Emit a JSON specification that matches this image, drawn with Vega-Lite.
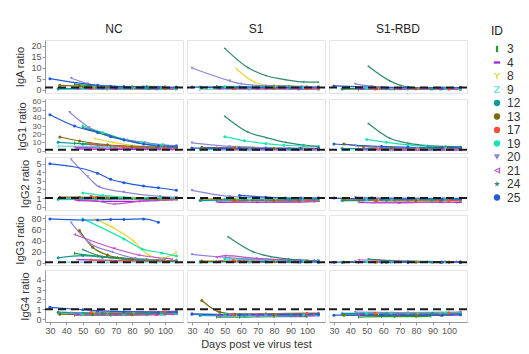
{
"$schema": "https://vega.github.io/schema/vega-lite/v6.json",
"padding": {"left": 14, "top": 22, "right": 4, "bottom": 2},
"datasets": {
"IgA": [
{"c":"NC","id":3,"d":45,"v":2.5},{"c":"NC","id":3,"d":59,"v":1.6},{"c":"NC","id":3,"d":67,"v":1.5},{"c":"NC","id":3,"d":80,"v":1.4},{"c":"NC","id":3,"d":89,"v":1.5},{"c":"NC","id":3,"d":100,"v":1.4},
{"c":"NC","id":4,"d":47,"v":0.4},{"c":"NC","id":4,"d":70,"v":0.3},{"c":"NC","id":4,"d":95,"v":0.3},{"c":"NC","id":4,"d":107,"v":0.4},
{"c":"NC","id":8,"d":57,"v":0.8},{"c":"NC","id":8,"d":81,"v":0.6},{"c":"NC","id":8,"d":98,"v":0.5},{"c":"NC","id":8,"d":107,"v":0.7},
{"c":"NC","id":9,"d":35,"v":0.1},{"c":"NC","id":9,"d":65,"v":0.1},{"c":"NC","id":9,"d":95,"v":0.2},{"c":"NC","id":9,"d":107,"v":0.1},
{"c":"NC","id":12,"d":35,"v":0.5},{"c":"NC","id":12,"d":62,"v":0.6},{"c":"NC","id":12,"d":90,"v":0.5},{"c":"NC","id":12,"d":107,"v":0.6},
{"c":"NC","id":13,"d":36,"v":2.0},{"c":"NC","id":13,"d":48,"v":1.6},{"c":"NC","id":13,"d":65,"v":1.1},{"c":"NC","id":13,"d":95,"v":0.9},
{"c":"NC","id":17,"d":55,"v":0.7},{"c":"NC","id":17,"d":75,"v":0.6},{"c":"NC","id":17,"d":100,"v":0.5},{"c":"NC","id":17,"d":107,"v":0.5},
{"c":"NC","id":19,"d":50,"v":0.7},{"c":"NC","id":19,"d":75,"v":0.6},{"c":"NC","id":19,"d":98,"v":0.5},{"c":"NC","id":19,"d":107,"v":0.6},
{"c":"NC","id":20,"d":43,"v":5.2},{"c":"NC","id":20,"d":53,"v":2.8},{"c":"NC","id":20,"d":60,"v":1.8},{"c":"NC","id":20,"d":75,"v":1.2},{"c":"NC","id":20,"d":97,"v":1.0},{"c":"NC","id":20,"d":107,"v":1.1},
{"c":"NC","id":21,"d":45,"v":0.6},{"c":"NC","id":21,"d":69,"v":0.4},{"c":"NC","id":21,"d":95,"v":0.5},{"c":"NC","id":21,"d":104,"v":0.4},
{"c":"NC","id":24,"d":50,"v":1.0},{"c":"NC","id":24,"d":75,"v":0.8},{"c":"NC","id":24,"d":98,"v":0.7},{"c":"NC","id":24,"d":107,"v":0.8},
{"c":"NC","id":25,"d":30,"v":5.0},{"c":"NC","id":25,"d":59,"v":2.0},{"c":"NC","id":25,"d":67,"v":1.6},{"c":"NC","id":25,"d":75,"v":1.4},{"c":"NC","id":25,"d":87,"v":1.2},{"c":"NC","id":25,"d":96,"v":1.1},{"c":"NC","id":25,"d":107,"v":1.2},
{"c":"S1","id":3,"d":45,"v":1.5},{"c":"S1","id":3,"d":67,"v":1.3},{"c":"S1","id":3,"d":80,"v":1.8},{"c":"S1","id":3,"d":89,"v":1.6},{"c":"S1","id":3,"d":100,"v":1.4},
{"c":"S1","id":4,"d":47,"v":0.4},{"c":"S1","id":4,"d":70,"v":0.3},{"c":"S1","id":4,"d":95,"v":0.3},{"c":"S1","id":4,"d":107,"v":0.4},
{"c":"S1","id":8,"d":57,"v":9.5},{"c":"S1","id":8,"d":68,"v":3.5},{"c":"S1","id":8,"d":81,"v":1.5},{"c":"S1","id":8,"d":98,"v":1.2},{"c":"S1","id":8,"d":107,"v":1.2},
{"c":"S1","id":9,"d":35,"v":0.1},{"c":"S1","id":9,"d":65,"v":0.2},{"c":"S1","id":9,"d":95,"v":0.1},{"c":"S1","id":9,"d":107,"v":0.2},
{"c":"S1","id":12,"d":35,"v":1.2},{"c":"S1","id":12,"d":62,"v":1.0},{"c":"S1","id":12,"d":90,"v":0.8},{"c":"S1","id":12,"d":107,"v":0.8},
{"c":"S1","id":13,"d":36,"v":1.0},{"c":"S1","id":13,"d":56,"v":0.7},{"c":"S1","id":13,"d":80,"v":0.6},{"c":"S1","id":13,"d":95,"v":0.6},
{"c":"S1","id":17,"d":55,"v":0.5},{"c":"S1","id":17,"d":75,"v":0.5},{"c":"S1","id":17,"d":100,"v":0.4},{"c":"S1","id":17,"d":107,"v":0.4},
{"c":"S1","id":19,"d":50,"v":1.5},{"c":"S1","id":19,"d":75,"v":1.3},{"c":"S1","id":19,"d":98,"v":1.0},{"c":"S1","id":19,"d":107,"v":1.0},
{"c":"S1","id":20,"d":30,"v":9.8},{"c":"S1","id":20,"d":53,"v":4.0},{"c":"S1","id":20,"d":60,"v":2.6},{"c":"S1","id":20,"d":75,"v":1.8},{"c":"S1","id":20,"d":97,"v":1.4},{"c":"S1","id":20,"d":107,"v":1.3},
{"c":"S1","id":21,"d":45,"v":0.6},{"c":"S1","id":21,"d":69,"v":0.5},{"c":"S1","id":21,"d":95,"v":0.4},{"c":"S1","id":21,"d":104,"v":0.5},
{"c":"S1","id":24,"d":50,"v":18.7},{"c":"S1","id":24,"d":64,"v":10.0},{"c":"S1","id":24,"d":75,"v":6.4},{"c":"S1","id":24,"d":87,"v":4.5},{"c":"S1","id":24,"d":98,"v":3.5},{"c":"S1","id":24,"d":107,"v":3.4},
{"c":"S1","id":25,"d":30,"v":1.2},{"c":"S1","id":25,"d":59,"v":1.2},{"c":"S1","id":25,"d":75,"v":1.1},{"c":"S1","id":25,"d":96,"v":1.0},{"c":"S1","id":25,"d":107,"v":1.1},
{"c":"S1-RBD","id":3,"d":45,"v":0.2},{"c":"S1-RBD","id":3,"d":67,"v":0.3},{"c":"S1-RBD","id":3,"d":89,"v":0.2},{"c":"S1-RBD","id":3,"d":100,"v":0.3},
{"c":"S1-RBD","id":4,"d":47,"v":0.3},{"c":"S1-RBD","id":4,"d":70,"v":0.2},{"c":"S1-RBD","id":4,"d":95,"v":0.3},{"c":"S1-RBD","id":4,"d":107,"v":0.3},
{"c":"S1-RBD","id":8,"d":57,"v":0.5},{"c":"S1-RBD","id":8,"d":81,"v":0.4},{"c":"S1-RBD","id":8,"d":98,"v":0.4},{"c":"S1-RBD","id":8,"d":107,"v":0.4},
{"c":"S1-RBD","id":9,"d":35,"v":0.1},{"c":"S1-RBD","id":9,"d":65,"v":0.1},{"c":"S1-RBD","id":9,"d":95,"v":0.1},{"c":"S1-RBD","id":9,"d":107,"v":0.1},
{"c":"S1-RBD","id":12,"d":35,"v":0.4},{"c":"S1-RBD","id":12,"d":62,"v":0.4},{"c":"S1-RBD","id":12,"d":90,"v":0.4},{"c":"S1-RBD","id":12,"d":107,"v":0.3},
{"c":"S1-RBD","id":13,"d":36,"v":0.6},{"c":"S1-RBD","id":13,"d":56,"v":0.5},{"c":"S1-RBD","id":13,"d":80,"v":0.4},{"c":"S1-RBD","id":13,"d":95,"v":0.4},
{"c":"S1-RBD","id":17,"d":55,"v":0.3},{"c":"S1-RBD","id":17,"d":75,"v":0.3},{"c":"S1-RBD","id":17,"d":100,"v":0.3},{"c":"S1-RBD","id":17,"d":107,"v":0.3},
{"c":"S1-RBD","id":19,"d":50,"v":0.7},{"c":"S1-RBD","id":19,"d":75,"v":0.5},{"c":"S1-RBD","id":19,"d":98,"v":0.5},{"c":"S1-RBD","id":19,"d":107,"v":0.5},
{"c":"S1-RBD","id":20,"d":43,"v":2.6},{"c":"S1-RBD","id":20,"d":53,"v":1.5},{"c":"S1-RBD","id":20,"d":75,"v":0.9},{"c":"S1-RBD","id":20,"d":97,"v":0.8},{"c":"S1-RBD","id":20,"d":107,"v":0.8},
{"c":"S1-RBD","id":21,"d":45,"v":0.4},{"c":"S1-RBD","id":21,"d":69,"v":0.3},{"c":"S1-RBD","id":21,"d":95,"v":0.3},{"c":"S1-RBD","id":21,"d":104,"v":0.3},
{"c":"S1-RBD","id":24,"d":51,"v":10.6},{"c":"S1-RBD","id":24,"d":64,"v":4.0},{"c":"S1-RBD","id":24,"d":75,"v":1.2},{"c":"S1-RBD","id":24,"d":87,"v":0.8},{"c":"S1-RBD","id":24,"d":98,"v":0.8},{"c":"S1-RBD","id":24,"d":107,"v":0.9},
{"c":"S1-RBD","id":25,"d":30,"v":1.7},{"c":"S1-RBD","id":25,"d":59,"v":1.0},{"c":"S1-RBD","id":25,"d":75,"v":0.9},{"c":"S1-RBD","id":25,"d":96,"v":0.8},{"c":"S1-RBD","id":25,"d":107,"v":1.0}
],
"IgG1": [
{"c":"NC","id":3,"d":45,"v":9},{"c":"NC","id":3,"d":59,"v":7},{"c":"NC","id":3,"d":67,"v":5},{"c":"NC","id":3,"d":80,"v":4},{"c":"NC","id":3,"d":89,"v":3.5},{"c":"NC","id":3,"d":100,"v":3},
{"c":"NC","id":4,"d":47,"v":2},{"c":"NC","id":4,"d":70,"v":1.5},{"c":"NC","id":4,"d":95,"v":1.2},{"c":"NC","id":4,"d":107,"v":1},
{"c":"NC","id":8,"d":57,"v":14.7},{"c":"NC","id":8,"d":68,"v":10},{"c":"NC","id":8,"d":81,"v":6},{"c":"NC","id":8,"d":98,"v":3.5},{"c":"NC","id":8,"d":107,"v":3},
{"c":"NC","id":9,"d":35,"v":5.3},{"c":"NC","id":9,"d":65,"v":5},{"c":"NC","id":9,"d":95,"v":5},{"c":"NC","id":9,"d":107,"v":5},
{"c":"NC","id":12,"d":35,"v":10},{"c":"NC","id":12,"d":50,"v":8},{"c":"NC","id":12,"d":75,"v":5},{"c":"NC","id":12,"d":107,"v":3},
{"c":"NC","id":13,"d":36,"v":16.6},{"c":"NC","id":13,"d":48,"v":11.7},{"c":"NC","id":13,"d":65,"v":7},{"c":"NC","id":13,"d":80,"v":5},{"c":"NC","id":13,"d":95,"v":4},
{"c":"NC","id":17,"d":55,"v":8},{"c":"NC","id":17,"d":75,"v":5},{"c":"NC","id":17,"d":100,"v":3},{"c":"NC","id":17,"d":107,"v":3},
{"c":"NC","id":19,"d":50,"v":30},{"c":"NC","id":19,"d":62,"v":22},{"c":"NC","id":19,"d":75,"v":14},{"c":"NC","id":19,"d":86,"v":10},{"c":"NC","id":19,"d":98,"v":7},{"c":"NC","id":19,"d":107,"v":5.3},
{"c":"NC","id":20,"d":42,"v":46.8},{"c":"NC","id":20,"d":54,"v":28},{"c":"NC","id":20,"d":77,"v":12.8},{"c":"NC","id":20,"d":88,"v":9.8},{"c":"NC","id":20,"d":99,"v":7},{"c":"NC","id":20,"d":107,"v":6},
{"c":"NC","id":21,"d":45,"v":4},{"c":"NC","id":21,"d":69,"v":3},{"c":"NC","id":21,"d":95,"v":2},{"c":"NC","id":21,"d":104,"v":2},
{"c":"NC","id":24,"d":50,"v":28},{"c":"NC","id":24,"d":64,"v":20},{"c":"NC","id":24,"d":75,"v":13},{"c":"NC","id":24,"d":87,"v":8},{"c":"NC","id":24,"d":98,"v":5},{"c":"NC","id":24,"d":107,"v":4},
{"c":"NC","id":25,"d":30,"v":43.8},{"c":"NC","id":25,"d":45,"v":30},{"c":"NC","id":25,"d":59,"v":22},{"c":"NC","id":25,"d":67,"v":17},{"c":"NC","id":25,"d":75,"v":13},{"c":"NC","id":25,"d":87,"v":8},{"c":"NC","id":25,"d":96,"v":6},{"c":"NC","id":25,"d":107,"v":5},
{"c":"S1","id":3,"d":45,"v":3},{"c":"S1","id":3,"d":67,"v":2.5},{"c":"S1","id":3,"d":89,"v":2.5},{"c":"S1","id":3,"d":100,"v":2},
{"c":"S1","id":4,"d":47,"v":1},{"c":"S1","id":4,"d":70,"v":0.8},{"c":"S1","id":4,"d":95,"v":0.7},{"c":"S1","id":4,"d":107,"v":0.8},
{"c":"S1","id":8,"d":57,"v":5},{"c":"S1","id":8,"d":81,"v":3},{"c":"S1","id":8,"d":98,"v":2.5},{"c":"S1","id":8,"d":107,"v":2.5},
{"c":"S1","id":9,"d":35,"v":1},{"c":"S1","id":9,"d":65,"v":1},{"c":"S1","id":9,"d":95,"v":1},{"c":"S1","id":9,"d":107,"v":1},
{"c":"S1","id":12,"d":35,"v":2},{"c":"S1","id":12,"d":62,"v":2},{"c":"S1","id":12,"d":90,"v":2},{"c":"S1","id":12,"d":107,"v":2},
{"c":"S1","id":13,"d":36,"v":4},{"c":"S1","id":13,"d":56,"v":3},{"c":"S1","id":13,"d":80,"v":2.5},{"c":"S1","id":13,"d":95,"v":2},
{"c":"S1","id":17,"d":55,"v":2},{"c":"S1","id":17,"d":75,"v":2},{"c":"S1","id":17,"d":100,"v":1.5},{"c":"S1","id":17,"d":107,"v":1.5},
{"c":"S1","id":19,"d":50,"v":17},{"c":"S1","id":19,"d":62,"v":12},{"c":"S1","id":19,"d":75,"v":8.5},{"c":"S1","id":19,"d":86,"v":6.5},{"c":"S1","id":19,"d":98,"v":5.5},{"c":"S1","id":19,"d":107,"v":5},
{"c":"S1","id":20,"d":30,"v":9.4},{"c":"S1","id":20,"d":53,"v":5},{"c":"S1","id":20,"d":75,"v":3.5},{"c":"S1","id":20,"d":97,"v":3},{"c":"S1","id":20,"d":107,"v":3},
{"c":"S1","id":21,"d":45,"v":3},{"c":"S1","id":21,"d":69,"v":2},{"c":"S1","id":21,"d":95,"v":1.5},{"c":"S1","id":21,"d":104,"v":1.5},
{"c":"S1","id":24,"d":50,"v":42},{"c":"S1","id":24,"d":64,"v":22.6},{"c":"S1","id":24,"d":75,"v":16},{"c":"S1","id":24,"d":87,"v":10},{"c":"S1","id":24,"d":98,"v":6.8},{"c":"S1","id":24,"d":107,"v":5},
{"c":"S1","id":25,"d":30,"v":3},{"c":"S1","id":25,"d":59,"v":3},{"c":"S1","id":25,"d":75,"v":2.5},{"c":"S1","id":25,"d":96,"v":2.5},{"c":"S1","id":25,"d":107,"v":2.5},
{"c":"S1-RBD","id":3,"d":45,"v":2},{"c":"S1-RBD","id":3,"d":67,"v":2},{"c":"S1-RBD","id":3,"d":89,"v":1.8},{"c":"S1-RBD","id":3,"d":100,"v":1.8},
{"c":"S1-RBD","id":4,"d":47,"v":0.8},{"c":"S1-RBD","id":4,"d":70,"v":0.6},{"c":"S1-RBD","id":4,"d":95,"v":0.6},{"c":"S1-RBD","id":4,"d":107,"v":0.7},
{"c":"S1-RBD","id":8,"d":57,"v":3},{"c":"S1-RBD","id":8,"d":81,"v":2.5},{"c":"S1-RBD","id":8,"d":98,"v":2},{"c":"S1-RBD","id":8,"d":107,"v":2},
{"c":"S1-RBD","id":9,"d":35,"v":1},{"c":"S1-RBD","id":9,"d":65,"v":1},{"c":"S1-RBD","id":9,"d":95,"v":1},{"c":"S1-RBD","id":9,"d":107,"v":1},
{"c":"S1-RBD","id":12,"d":35,"v":2.5},{"c":"S1-RBD","id":12,"d":62,"v":2.5},{"c":"S1-RBD","id":12,"d":90,"v":2.5},{"c":"S1-RBD","id":12,"d":107,"v":2.5},
{"c":"S1-RBD","id":13,"d":36,"v":8},{"c":"S1-RBD","id":13,"d":48,"v":5},{"c":"S1-RBD","id":13,"d":65,"v":3.5},{"c":"S1-RBD","id":13,"d":95,"v":3},
{"c":"S1-RBD","id":17,"d":55,"v":2},{"c":"S1-RBD","id":17,"d":75,"v":1.8},{"c":"S1-RBD","id":17,"d":100,"v":1.5},{"c":"S1-RBD","id":17,"d":107,"v":1.5},
{"c":"S1-RBD","id":19,"d":50,"v":13.6},{"c":"S1-RBD","id":19,"d":62,"v":10},{"c":"S1-RBD","id":19,"d":75,"v":7},{"c":"S1-RBD","id":19,"d":86,"v":5.5},{"c":"S1-RBD","id":19,"d":98,"v":4.5},{"c":"S1-RBD","id":19,"d":107,"v":4},
{"c":"S1-RBD","id":20,"d":43,"v":6},{"c":"S1-RBD","id":20,"d":53,"v":4.5},{"c":"S1-RBD","id":20,"d":75,"v":3.5},{"c":"S1-RBD","id":20,"d":97,"v":3},{"c":"S1-RBD","id":20,"d":107,"v":3},
{"c":"S1-RBD","id":21,"d":45,"v":1.5},{"c":"S1-RBD","id":21,"d":69,"v":1.2},{"c":"S1-RBD","id":21,"d":95,"v":1},{"c":"S1-RBD","id":21,"d":104,"v":1},
{"c":"S1-RBD","id":24,"d":51,"v":33},{"c":"S1-RBD","id":24,"d":64,"v":15},{"c":"S1-RBD","id":24,"d":75,"v":9},{"c":"S1-RBD","id":24,"d":87,"v":6},{"c":"S1-RBD","id":24,"d":98,"v":5},{"c":"S1-RBD","id":24,"d":107,"v":4.5},
{"c":"S1-RBD","id":25,"d":30,"v":8},{"c":"S1-RBD","id":25,"d":59,"v":5},{"c":"S1-RBD","id":25,"d":75,"v":4},{"c":"S1-RBD","id":25,"d":96,"v":3.5},{"c":"S1-RBD","id":25,"d":107,"v":3.5}
],
"IgG2": [
{"c":"NC","id":3,"d":45,"v":1.0},{"c":"NC","id":3,"d":59,"v":0.95},{"c":"NC","id":3,"d":67,"v":0.9},{"c":"NC","id":3,"d":80,"v":0.95},{"c":"NC","id":3,"d":89,"v":0.9},{"c":"NC","id":3,"d":100,"v":0.9},
{"c":"NC","id":4,"d":47,"v":0.7},{"c":"NC","id":4,"d":70,"v":0.6},{"c":"NC","id":4,"d":95,"v":0.7},{"c":"NC","id":4,"d":107,"v":0.8},
{"c":"NC","id":8,"d":57,"v":1.1},{"c":"NC","id":8,"d":81,"v":0.9},{"c":"NC","id":8,"d":98,"v":0.8},{"c":"NC","id":8,"d":107,"v":0.8},
{"c":"NC","id":9,"d":35,"v":0.8},{"c":"NC","id":9,"d":65,"v":0.9},{"c":"NC","id":9,"d":95,"v":0.9},{"c":"NC","id":9,"d":107,"v":0.9},
{"c":"NC","id":12,"d":35,"v":0.9},{"c":"NC","id":12,"d":62,"v":0.9},{"c":"NC","id":12,"d":90,"v":1.0},{"c":"NC","id":12,"d":107,"v":1.0},
{"c":"NC","id":13,"d":36,"v":1.1},{"c":"NC","id":13,"d":48,"v":1.1},{"c":"NC","id":13,"d":65,"v":1.0},{"c":"NC","id":13,"d":95,"v":0.9},
{"c":"NC","id":17,"d":55,"v":1.2},{"c":"NC","id":17,"d":75,"v":1.0},{"c":"NC","id":17,"d":100,"v":0.9},{"c":"NC","id":17,"d":107,"v":0.9},
{"c":"NC","id":19,"d":50,"v":1.6},{"c":"NC","id":19,"d":62,"v":1.3},{"c":"NC","id":19,"d":75,"v":1.1},{"c":"NC","id":19,"d":98,"v":1.0},{"c":"NC","id":19,"d":107,"v":1.0},
{"c":"NC","id":20,"d":43,"v":5.5},{"c":"NC","id":20,"d":53,"v":3.5},{"c":"NC","id":20,"d":60,"v":2.3},{"c":"NC","id":20,"d":75,"v":1.7},{"c":"NC","id":20,"d":97,"v":1.2},{"c":"NC","id":20,"d":107,"v":1.1},
{"c":"NC","id":21,"d":45,"v":0.8},{"c":"NC","id":21,"d":57,"v":0.7},{"c":"NC","id":21,"d":69,"v":0.3},{"c":"NC","id":21,"d":84,"v":0.6},{"c":"NC","id":21,"d":104,"v":0.8},
{"c":"NC","id":24,"d":50,"v":1.0},{"c":"NC","id":24,"d":75,"v":0.9},{"c":"NC","id":24,"d":98,"v":0.9},{"c":"NC","id":24,"d":107,"v":0.9},
{"c":"NC","id":25,"d":30,"v":5.0},{"c":"NC","id":25,"d":59,"v":3.9},{"c":"NC","id":25,"d":67,"v":3.2},{"c":"NC","id":25,"d":75,"v":2.8},{"c":"NC","id":25,"d":87,"v":2.4},{"c":"NC","id":25,"d":96,"v":2.2},{"c":"NC","id":25,"d":107,"v":1.9},
{"c":"S1","id":3,"d":45,"v":0.75},{"c":"S1","id":3,"d":67,"v":0.75},{"c":"S1","id":3,"d":89,"v":0.8},{"c":"S1","id":3,"d":100,"v":0.75},
{"c":"S1","id":4,"d":47,"v":0.5},{"c":"S1","id":4,"d":70,"v":0.5},{"c":"S1","id":4,"d":95,"v":0.55},{"c":"S1","id":4,"d":107,"v":0.6},
{"c":"S1","id":8,"d":57,"v":0.9},{"c":"S1","id":8,"d":81,"v":0.8},{"c":"S1","id":8,"d":98,"v":0.7},{"c":"S1","id":8,"d":107,"v":0.7},
{"c":"S1","id":9,"d":35,"v":0.7},{"c":"S1","id":9,"d":65,"v":0.7},{"c":"S1","id":9,"d":95,"v":0.8},{"c":"S1","id":9,"d":107,"v":0.8},
{"c":"S1","id":12,"d":35,"v":0.7},{"c":"S1","id":12,"d":62,"v":0.8},{"c":"S1","id":12,"d":90,"v":0.8},{"c":"S1","id":12,"d":107,"v":0.8},
{"c":"S1","id":13,"d":36,"v":0.9},{"c":"S1","id":13,"d":56,"v":0.8},{"c":"S1","id":13,"d":80,"v":0.7},{"c":"S1","id":13,"d":95,"v":0.7},
{"c":"S1","id":17,"d":55,"v":0.6},{"c":"S1","id":17,"d":75,"v":0.7},{"c":"S1","id":17,"d":100,"v":0.7},{"c":"S1","id":17,"d":107,"v":0.7},
{"c":"S1","id":19,"d":50,"v":0.9},{"c":"S1","id":19,"d":75,"v":0.8},{"c":"S1","id":19,"d":98,"v":0.8},{"c":"S1","id":19,"d":107,"v":0.8},
{"c":"S1","id":20,"d":30,"v":1.9},{"c":"S1","id":20,"d":53,"v":1.2},{"c":"S1","id":20,"d":75,"v":1.0},{"c":"S1","id":20,"d":97,"v":1.0},{"c":"S1","id":20,"d":107,"v":1.0},
{"c":"S1","id":21,"d":45,"v":0.55},{"c":"S1","id":21,"d":69,"v":0.5},{"c":"S1","id":21,"d":95,"v":0.55},{"c":"S1","id":21,"d":104,"v":0.6},
{"c":"S1","id":24,"d":50,"v":0.8},{"c":"S1","id":24,"d":75,"v":0.75},{"c":"S1","id":24,"d":98,"v":0.8},{"c":"S1","id":24,"d":107,"v":0.8},
{"c":"S1","id":25,"d":59,"v":1.3},{"c":"S1","id":25,"d":75,"v":1.1},{"c":"S1","id":25,"d":87,"v":1.0},{"c":"S1","id":25,"d":96,"v":1.0},{"c":"S1","id":25,"d":107,"v":1.0},
{"c":"S1-RBD","id":3,"d":45,"v":0.75},{"c":"S1-RBD","id":3,"d":67,"v":0.7},{"c":"S1-RBD","id":3,"d":89,"v":0.7},{"c":"S1-RBD","id":3,"d":100,"v":0.7},
{"c":"S1-RBD","id":4,"d":47,"v":0.5},{"c":"S1-RBD","id":4,"d":70,"v":0.45},{"c":"S1-RBD","id":4,"d":95,"v":0.5},{"c":"S1-RBD","id":4,"d":107,"v":0.5},
{"c":"S1-RBD","id":8,"d":57,"v":0.8},{"c":"S1-RBD","id":8,"d":81,"v":0.75},{"c":"S1-RBD","id":8,"d":98,"v":0.7},{"c":"S1-RBD","id":8,"d":107,"v":0.7},
{"c":"S1-RBD","id":9,"d":35,"v":0.7},{"c":"S1-RBD","id":9,"d":65,"v":0.7},{"c":"S1-RBD","id":9,"d":95,"v":0.75},{"c":"S1-RBD","id":9,"d":107,"v":0.8},
{"c":"S1-RBD","id":12,"d":35,"v":0.7},{"c":"S1-RBD","id":12,"d":62,"v":0.75},{"c":"S1-RBD","id":12,"d":90,"v":0.8},{"c":"S1-RBD","id":12,"d":107,"v":0.8},
{"c":"S1-RBD","id":13,"d":36,"v":0.8},{"c":"S1-RBD","id":13,"d":56,"v":0.75},{"c":"S1-RBD","id":13,"d":80,"v":0.7},{"c":"S1-RBD","id":13,"d":95,"v":0.7},
{"c":"S1-RBD","id":17,"d":55,"v":0.7},{"c":"S1-RBD","id":17,"d":75,"v":0.7},{"c":"S1-RBD","id":17,"d":100,"v":0.7},{"c":"S1-RBD","id":17,"d":107,"v":0.7},
{"c":"S1-RBD","id":19,"d":50,"v":0.8},{"c":"S1-RBD","id":19,"d":75,"v":0.8},{"c":"S1-RBD","id":19,"d":98,"v":0.85},{"c":"S1-RBD","id":19,"d":107,"v":0.85},
{"c":"S1-RBD","id":20,"d":43,"v":1.1},{"c":"S1-RBD","id":20,"d":53,"v":1.05},{"c":"S1-RBD","id":20,"d":75,"v":1.0},{"c":"S1-RBD","id":20,"d":97,"v":0.95},{"c":"S1-RBD","id":20,"d":107,"v":1.0},
{"c":"S1-RBD","id":21,"d":45,"v":0.5},{"c":"S1-RBD","id":21,"d":69,"v":0.45},{"c":"S1-RBD","id":21,"d":95,"v":0.5},{"c":"S1-RBD","id":21,"d":104,"v":0.5},
{"c":"S1-RBD","id":24,"d":51,"v":0.8},{"c":"S1-RBD","id":24,"d":75,"v":0.8},{"c":"S1-RBD","id":24,"d":98,"v":0.8},{"c":"S1-RBD","id":24,"d":107,"v":0.8},
{"c":"S1-RBD","id":25,"d":30,"v":1.0},{"c":"S1-RBD","id":25,"d":59,"v":0.9},{"c":"S1-RBD","id":25,"d":75,"v":0.9},{"c":"S1-RBD","id":25,"d":96,"v":0.9},{"c":"S1-RBD","id":25,"d":107,"v":0.9}
],
"IgG3": [
{"c":"NC","id":3,"d":45,"v":17},{"c":"NC","id":3,"d":59,"v":12},{"c":"NC","id":3,"d":71,"v":9.4},{"c":"NC","id":3,"d":89,"v":6},{"c":"NC","id":3,"d":100,"v":5},
{"c":"NC","id":4,"d":47,"v":5.5},{"c":"NC","id":4,"d":70,"v":4},{"c":"NC","id":4,"d":95,"v":3},{"c":"NC","id":4,"d":107,"v":3},
{"c":"NC","id":8,"d":57,"v":79},{"c":"NC","id":8,"d":68,"v":64},{"c":"NC","id":8,"d":81,"v":39},{"c":"NC","id":8,"d":90,"v":14},{"c":"NC","id":8,"d":98,"v":8},{"c":"NC","id":8,"d":107,"v":19},
{"c":"NC","id":9,"d":35,"v":1},{"c":"NC","id":9,"d":65,"v":1},{"c":"NC","id":9,"d":95,"v":1},{"c":"NC","id":9,"d":107,"v":1},
{"c":"NC","id":12,"d":35,"v":9},{"c":"NC","id":12,"d":50,"v":13},{"c":"NC","id":12,"d":62,"v":10},{"c":"NC","id":12,"d":75,"v":7},{"c":"NC","id":12,"d":107,"v":3},
{"c":"NC","id":13,"d":48,"v":58},{"c":"NC","id":13,"d":56,"v":28},{"c":"NC","id":13,"d":65,"v":14},{"c":"NC","id":13,"d":80,"v":6},{"c":"NC","id":13,"d":95,"v":3},
{"c":"NC","id":17,"d":55,"v":5},{"c":"NC","id":17,"d":75,"v":4},{"c":"NC","id":17,"d":100,"v":3},{"c":"NC","id":17,"d":107,"v":3},
{"c":"NC","id":19,"d":50,"v":79},{"c":"NC","id":19,"d":75,"v":43},{"c":"NC","id":19,"d":86,"v":25},{"c":"NC","id":19,"d":98,"v":17.8},{"c":"NC","id":19,"d":107,"v":12},
{"c":"NC","id":20,"d":43,"v":72},{"c":"NC","id":20,"d":54,"v":36},{"c":"NC","id":20,"d":68,"v":19.4},{"c":"NC","id":20,"d":82,"v":8},{"c":"NC","id":20,"d":97,"v":5},{"c":"NC","id":20,"d":107,"v":4},
{"c":"NC","id":21,"d":45,"v":51},{"c":"NC","id":21,"d":69,"v":26},{"c":"NC","id":21,"d":84,"v":14},{"c":"NC","id":21,"d":104,"v":7},
{"c":"NC","id":24,"d":50,"v":24},{"c":"NC","id":24,"d":62,"v":11},{"c":"NC","id":24,"d":75,"v":7},{"c":"NC","id":24,"d":87,"v":5},{"c":"NC","id":24,"d":107,"v":4},
{"c":"NC","id":25,"d":30,"v":79},{"c":"NC","id":25,"d":50,"v":77},{"c":"NC","id":25,"d":59,"v":77},{"c":"NC","id":25,"d":67,"v":78},{"c":"NC","id":25,"d":75,"v":78},{"c":"NC","id":25,"d":87,"v":79},{"c":"NC","id":25,"d":96,"v":73},
{"c":"S1","id":3,"d":45,"v":2},{"c":"S1","id":3,"d":67,"v":2},{"c":"S1","id":3,"d":89,"v":2},{"c":"S1","id":3,"d":100,"v":2},
{"c":"S1","id":4,"d":47,"v":3},{"c":"S1","id":4,"d":70,"v":2.5},{"c":"S1","id":4,"d":95,"v":2},{"c":"S1","id":4,"d":107,"v":2},
{"c":"S1","id":8,"d":57,"v":4},{"c":"S1","id":8,"d":81,"v":3},{"c":"S1","id":8,"d":98,"v":3},{"c":"S1","id":8,"d":107,"v":3},
{"c":"S1","id":9,"d":35,"v":1},{"c":"S1","id":9,"d":65,"v":1},{"c":"S1","id":9,"d":95,"v":1},{"c":"S1","id":9,"d":107,"v":1},
{"c":"S1","id":12,"d":35,"v":2},{"c":"S1","id":12,"d":62,"v":2},{"c":"S1","id":12,"d":90,"v":2},{"c":"S1","id":12,"d":107,"v":2},
{"c":"S1","id":13,"d":36,"v":3},{"c":"S1","id":13,"d":56,"v":2.5},{"c":"S1","id":13,"d":80,"v":2},{"c":"S1","id":13,"d":95,"v":2},
{"c":"S1","id":17,"d":55,"v":4},{"c":"S1","id":17,"d":75,"v":3},{"c":"S1","id":17,"d":100,"v":3},{"c":"S1","id":17,"d":107,"v":3},
{"c":"S1","id":19,"d":50,"v":7},{"c":"S1","id":19,"d":75,"v":5},{"c":"S1","id":19,"d":98,"v":4},{"c":"S1","id":19,"d":107,"v":4},
{"c":"S1","id":20,"d":30,"v":15},{"c":"S1","id":20,"d":53,"v":9},{"c":"S1","id":20,"d":75,"v":6},{"c":"S1","id":20,"d":97,"v":4},{"c":"S1","id":20,"d":107,"v":3.5},
{"c":"S1","id":21,"d":45,"v":10},{"c":"S1","id":21,"d":50,"v":12.8},{"c":"S1","id":21,"d":69,"v":8},{"c":"S1","id":21,"d":95,"v":5},{"c":"S1","id":21,"d":104,"v":4},
{"c":"S1","id":24,"d":52,"v":46.7},{"c":"S1","id":24,"d":67,"v":20},{"c":"S1","id":24,"d":78,"v":11},{"c":"S1","id":24,"d":89,"v":6.7},{"c":"S1","id":24,"d":100,"v":4.4},{"c":"S1","id":24,"d":107,"v":2.8},
{"c":"S1","id":25,"d":59,"v":2},{"c":"S1","id":25,"d":75,"v":2},{"c":"S1","id":25,"d":96,"v":1.5},{"c":"S1","id":25,"d":107,"v":1.5},
{"c":"S1-RBD","id":3,"d":45,"v":1},{"c":"S1-RBD","id":3,"d":67,"v":1},{"c":"S1-RBD","id":3,"d":89,"v":1},{"c":"S1-RBD","id":3,"d":100,"v":1},
{"c":"S1-RBD","id":4,"d":47,"v":1.5},{"c":"S1-RBD","id":4,"d":70,"v":1.2},{"c":"S1-RBD","id":4,"d":95,"v":1.2},{"c":"S1-RBD","id":4,"d":107,"v":1.2},
{"c":"S1-RBD","id":8,"d":57,"v":1.5},{"c":"S1-RBD","id":8,"d":81,"v":1.3},{"c":"S1-RBD","id":8,"d":98,"v":1.2},{"c":"S1-RBD","id":8,"d":107,"v":1.2},
{"c":"S1-RBD","id":9,"d":35,"v":0.5},{"c":"S1-RBD","id":9,"d":65,"v":0.5},{"c":"S1-RBD","id":9,"d":95,"v":0.5},{"c":"S1-RBD","id":9,"d":107,"v":0.5},
{"c":"S1-RBD","id":12,"d":35,"v":1},{"c":"S1-RBD","id":12,"d":62,"v":1},{"c":"S1-RBD","id":12,"d":90,"v":1},{"c":"S1-RBD","id":12,"d":107,"v":1},
{"c":"S1-RBD","id":13,"d":36,"v":1.5},{"c":"S1-RBD","id":13,"d":56,"v":1.2},{"c":"S1-RBD","id":13,"d":80,"v":1},{"c":"S1-RBD","id":13,"d":95,"v":1},
{"c":"S1-RBD","id":17,"d":55,"v":1.5},{"c":"S1-RBD","id":17,"d":75,"v":1.3},{"c":"S1-RBD","id":17,"d":100,"v":1.2},{"c":"S1-RBD","id":17,"d":107,"v":1.2},
{"c":"S1-RBD","id":19,"d":50,"v":2},{"c":"S1-RBD","id":19,"d":75,"v":1.5},{"c":"S1-RBD","id":19,"d":98,"v":1.5},{"c":"S1-RBD","id":19,"d":107,"v":1.5},
{"c":"S1-RBD","id":20,"d":43,"v":2},{"c":"S1-RBD","id":20,"d":53,"v":1.8},{"c":"S1-RBD","id":20,"d":75,"v":1.5},{"c":"S1-RBD","id":20,"d":97,"v":1.3},{"c":"S1-RBD","id":20,"d":107,"v":1.3},
{"c":"S1-RBD","id":21,"d":45,"v":5},{"c":"S1-RBD","id":21,"d":57,"v":5},{"c":"S1-RBD","id":21,"d":69,"v":3},{"c":"S1-RBD","id":21,"d":95,"v":2},{"c":"S1-RBD","id":21,"d":104,"v":2},
{"c":"S1-RBD","id":24,"d":51,"v":6.7},{"c":"S1-RBD","id":24,"d":64,"v":4},{"c":"S1-RBD","id":24,"d":75,"v":3},{"c":"S1-RBD","id":24,"d":87,"v":2.5},{"c":"S1-RBD","id":24,"d":98,"v":2},{"c":"S1-RBD","id":24,"d":107,"v":2},
{"c":"S1-RBD","id":25,"d":30,"v":1},{"c":"S1-RBD","id":25,"d":59,"v":1},{"c":"S1-RBD","id":25,"d":75,"v":1},{"c":"S1-RBD","id":25,"d":96,"v":1},{"c":"S1-RBD","id":25,"d":107,"v":1}
],
"IgG4": [
{"c":"NC","id":3,"d":45,"v":0.4},{"c":"NC","id":3,"d":67,"v":0.4},{"c":"NC","id":3,"d":89,"v":0.45},{"c":"NC","id":3,"d":100,"v":0.5},
{"c":"NC","id":4,"d":47,"v":0.5},{"c":"NC","id":4,"d":70,"v":0.45},{"c":"NC","id":4,"d":95,"v":0.45},{"c":"NC","id":4,"d":107,"v":0.5},
{"c":"NC","id":8,"d":57,"v":0.6},{"c":"NC","id":8,"d":81,"v":0.55},{"c":"NC","id":8,"d":98,"v":0.55},{"c":"NC","id":8,"d":107,"v":0.6},
{"c":"NC","id":9,"d":35,"v":0.6},{"c":"NC","id":9,"d":65,"v":0.55},{"c":"NC","id":9,"d":95,"v":0.6},{"c":"NC","id":9,"d":107,"v":0.7},
{"c":"NC","id":12,"d":35,"v":0.7},{"c":"NC","id":12,"d":62,"v":0.6},{"c":"NC","id":12,"d":90,"v":0.6},{"c":"NC","id":12,"d":107,"v":0.6},
{"c":"NC","id":13,"d":36,"v":0.5},{"c":"NC","id":13,"d":56,"v":0.45},{"c":"NC","id":13,"d":80,"v":0.45},{"c":"NC","id":13,"d":95,"v":0.5},
{"c":"NC","id":17,"d":55,"v":0.7},{"c":"NC","id":17,"d":75,"v":0.7},{"c":"NC","id":17,"d":100,"v":0.75},{"c":"NC","id":17,"d":107,"v":0.8},
{"c":"NC","id":19,"d":50,"v":0.5},{"c":"NC","id":19,"d":75,"v":0.5},{"c":"NC","id":19,"d":98,"v":0.5},{"c":"NC","id":19,"d":107,"v":0.6},
{"c":"NC","id":20,"d":43,"v":0.6},{"c":"NC","id":20,"d":60,"v":0.55},{"c":"NC","id":20,"d":97,"v":0.6},{"c":"NC","id":20,"d":107,"v":0.6},
{"c":"NC","id":21,"d":45,"v":0.45},{"c":"NC","id":21,"d":69,"v":0.45},{"c":"NC","id":21,"d":95,"v":0.45},{"c":"NC","id":21,"d":104,"v":0.5},
{"c":"NC","id":24,"d":50,"v":0.6},{"c":"NC","id":24,"d":75,"v":0.55},{"c":"NC","id":24,"d":98,"v":0.6},{"c":"NC","id":24,"d":107,"v":0.65},
{"c":"NC","id":25,"d":30,"v":1.2},{"c":"NC","id":25,"d":50,"v":0.95},{"c":"NC","id":25,"d":59,"v":0.85},{"c":"NC","id":25,"d":75,"v":0.75},{"c":"NC","id":25,"d":96,"v":0.7},{"c":"NC","id":25,"d":107,"v":0.75},
{"c":"S1","id":3,"d":45,"v":0.2},{"c":"S1","id":3,"d":59,"v":0.2},{"c":"S1","id":3,"d":80,"v":0.25},{"c":"S1","id":3,"d":100,"v":0.25},
{"c":"S1","id":4,"d":47,"v":0.3},{"c":"S1","id":4,"d":70,"v":0.3},{"c":"S1","id":4,"d":95,"v":0.3},{"c":"S1","id":4,"d":107,"v":0.35},
{"c":"S1","id":8,"d":57,"v":0.4},{"c":"S1","id":8,"d":81,"v":0.4},{"c":"S1","id":8,"d":98,"v":0.4},{"c":"S1","id":8,"d":107,"v":0.45},
{"c":"S1","id":9,"d":35,"v":0.35},{"c":"S1","id":9,"d":65,"v":0.3},{"c":"S1","id":9,"d":95,"v":0.35},{"c":"S1","id":9,"d":107,"v":0.4},
{"c":"S1","id":12,"d":35,"v":0.4},{"c":"S1","id":12,"d":62,"v":0.4},{"c":"S1","id":12,"d":90,"v":0.4},{"c":"S1","id":12,"d":107,"v":0.45},
{"c":"S1","id":13,"d":36,"v":1.9},{"c":"S1","id":13,"d":47,"v":0.7},{"c":"S1","id":13,"d":56,"v":0.5},{"c":"S1","id":13,"d":80,"v":0.45},{"c":"S1","id":13,"d":95,"v":0.45},
{"c":"S1","id":17,"d":55,"v":0.5},{"c":"S1","id":17,"d":75,"v":0.55},{"c":"S1","id":17,"d":100,"v":0.6},{"c":"S1","id":17,"d":107,"v":0.6},
{"c":"S1","id":19,"d":50,"v":0.5},{"c":"S1","id":19,"d":75,"v":0.45},{"c":"S1","id":19,"d":98,"v":0.5},{"c":"S1","id":19,"d":107,"v":0.5},
{"c":"S1","id":20,"d":30,"v":0.55},{"c":"S1","id":20,"d":53,"v":0.45},{"c":"S1","id":20,"d":75,"v":0.45},{"c":"S1","id":20,"d":107,"v":0.5},
{"c":"S1","id":21,"d":45,"v":0.4},{"c":"S1","id":21,"d":69,"v":0.4},{"c":"S1","id":21,"d":95,"v":0.4},{"c":"S1","id":21,"d":104,"v":0.4},
{"c":"S1","id":24,"d":50,"v":0.5},{"c":"S1","id":24,"d":75,"v":0.5},{"c":"S1","id":24,"d":98,"v":0.55},{"c":"S1","id":24,"d":107,"v":0.55},
{"c":"S1","id":25,"d":30,"v":0.5},{"c":"S1","id":25,"d":59,"v":0.45},{"c":"S1","id":25,"d":96,"v":0.45},{"c":"S1","id":25,"d":107,"v":0.5},
{"c":"S1-RBD","id":3,"d":45,"v":0.2},{"c":"S1-RBD","id":3,"d":59,"v":0.25},{"c":"S1-RBD","id":3,"d":67,"v":0.25},{"c":"S1-RBD","id":3,"d":80,"v":0.25},{"c":"S1-RBD","id":3,"d":89,"v":0.3},
{"c":"S1-RBD","id":4,"d":47,"v":0.45},{"c":"S1-RBD","id":4,"d":70,"v":0.4},{"c":"S1-RBD","id":4,"d":95,"v":0.4},{"c":"S1-RBD","id":4,"d":107,"v":0.45},
{"c":"S1-RBD","id":8,"d":57,"v":0.5},{"c":"S1-RBD","id":8,"d":81,"v":0.5},{"c":"S1-RBD","id":8,"d":98,"v":0.5},{"c":"S1-RBD","id":8,"d":107,"v":0.55},
{"c":"S1-RBD","id":9,"d":35,"v":0.6},{"c":"S1-RBD","id":9,"d":65,"v":0.65},{"c":"S1-RBD","id":9,"d":95,"v":0.7},{"c":"S1-RBD","id":9,"d":107,"v":0.7},
{"c":"S1-RBD","id":12,"d":35,"v":0.55},{"c":"S1-RBD","id":12,"d":62,"v":0.55},{"c":"S1-RBD","id":12,"d":90,"v":0.6},{"c":"S1-RBD","id":12,"d":107,"v":0.6},
{"c":"S1-RBD","id":13,"d":36,"v":0.4},{"c":"S1-RBD","id":13,"d":56,"v":0.4},{"c":"S1-RBD","id":13,"d":80,"v":0.4},{"c":"S1-RBD","id":13,"d":95,"v":0.4},
{"c":"S1-RBD","id":17,"d":55,"v":0.6},{"c":"S1-RBD","id":17,"d":75,"v":0.6},{"c":"S1-RBD","id":17,"d":100,"v":0.65},{"c":"S1-RBD","id":17,"d":107,"v":0.7},
{"c":"S1-RBD","id":19,"d":50,"v":0.6},{"c":"S1-RBD","id":19,"d":75,"v":0.6},{"c":"S1-RBD","id":19,"d":98,"v":0.65},{"c":"S1-RBD","id":19,"d":107,"v":0.65},
{"c":"S1-RBD","id":20,"d":43,"v":0.7},{"c":"S1-RBD","id":20,"d":75,"v":0.65},{"c":"S1-RBD","id":20,"d":107,"v":0.7},
{"c":"S1-RBD","id":21,"d":45,"v":0.45},{"c":"S1-RBD","id":21,"d":69,"v":0.45},{"c":"S1-RBD","id":21,"d":95,"v":0.45},{"c":"S1-RBD","id":21,"d":104,"v":0.45},
{"c":"S1-RBD","id":24,"d":51,"v":0.5},{"c":"S1-RBD","id":24,"d":75,"v":0.5},{"c":"S1-RBD","id":24,"d":98,"v":0.5},{"c":"S1-RBD","id":24,"d":107,"v":0.55},
{"c":"S1-RBD","id":25,"d":30,"v":0.4},{"c":"S1-RBD","id":25,"d":59,"v":0.4},{"c":"S1-RBD","id":25,"d":96,"v":0.4},{"c":"S1-RBD","id":25,"d":107,"v":0.45}
]
},
"vconcat": [
{"spacing": 0, "hconcat": [
 {"data": {"name": "IgA"}, "transform": [{"filter": "datum.c == 'NC'"}], "title": "NC", "width": 138, "height": 53,
  "layer": [
   {"mark": {"type": "line", "strokeWidth": 1.2, "interpolate": "monotone"}, "encoding": {"x": {"field": "d", "type": "quantitative", "scale": {"domain": [27, 111], "nice": false}, "axis": null}, "y": {"field": "v", "type": "quantitative", "scale": {"domain": [-1.5, 22.5], "nice": false, "zero": false}, "axis": {"title": "IgA ratio", "values": [0, 5, 10, 15, 20]}}, "color": {"field": "id", "type": "nominal", "title": "ID", "scale": {"domain": [3,4,8,9,12,13,17,19,20,21,24,25]}}}},
   {"mark": {"type": "point", "filled": true, "size": 9, "opacity": 1}, "encoding": {"x": {"field": "d", "type": "quantitative"}, "y": {"field": "v", "type": "quantitative"}, "color": {"field": "id", "type": "nominal", "title": "ID", "scale": {"domain": [3,4,8,9,12,13,17,19,20,21,24,25]}}, "shape": {"field": "id", "type": "nominal", "title": "ID", "scale": {"domain": [3,4,8,9,12,13,17,19,20,21,24,25]}}}},
   {"data": {"values": [{"c": "NC", "r": 1}]}, "mark": {"type": "rule", "strokeDash": [8, 5], "strokeWidth": 2, "color": "#1a1a1a"}, "encoding": {"y": {"field": "r", "type": "quantitative"}}}
  ]},
 {"data": {"name": "IgA"}, "transform": [{"filter": "datum.c == 'S1'"}], "title": "S1", "width": 138, "height": 53,
  "layer": [
   {"mark": {"type": "line", "strokeWidth": 1.2, "interpolate": "monotone"}, "encoding": {"x": {"field": "d", "type": "quantitative", "scale": {"domain": [27, 111], "nice": false}, "axis": null}, "y": {"field": "v", "type": "quantitative", "scale": {"domain": [-1.5, 22.5], "nice": false, "zero": false}, "axis": null}, "color": {"field": "id", "type": "nominal", "title": "ID", "scale": {"domain": [3,4,8,9,12,13,17,19,20,21,24,25]}}}},
   {"mark": {"type": "point", "filled": true, "size": 9, "opacity": 1}, "encoding": {"x": {"field": "d", "type": "quantitative"}, "y": {"field": "v", "type": "quantitative"}, "color": {"field": "id", "type": "nominal", "title": "ID", "scale": {"domain": [3,4,8,9,12,13,17,19,20,21,24,25]}}, "shape": {"field": "id", "type": "nominal", "title": "ID", "scale": {"domain": [3,4,8,9,12,13,17,19,20,21,24,25]}}}},
   {"data": {"values": [{"c": "S1", "r": 1}]}, "mark": {"type": "rule", "strokeDash": [8, 5], "strokeWidth": 2, "color": "#1a1a1a"}, "encoding": {"y": {"field": "r", "type": "quantitative"}}}
  ]},
 {"data": {"name": "IgA"}, "transform": [{"filter": "datum.c == 'S1-RBD'"}], "title": "S1-RBD", "width": 138, "height": 53,
  "layer": [
   {"mark": {"type": "line", "strokeWidth": 1.2, "interpolate": "monotone"}, "encoding": {"x": {"field": "d", "type": "quantitative", "scale": {"domain": [27, 111], "nice": false}, "axis": null}, "y": {"field": "v", "type": "quantitative", "scale": {"domain": [-1.5, 22.5], "nice": false, "zero": false}, "axis": null}, "color": {"field": "id", "type": "nominal", "title": "ID", "scale": {"domain": [3,4,8,9,12,13,17,19,20,21,24,25]}}}},
   {"mark": {"type": "point", "filled": true, "size": 9, "opacity": 1}, "encoding": {"x": {"field": "d", "type": "quantitative"}, "y": {"field": "v", "type": "quantitative"}, "color": {"field": "id", "type": "nominal", "title": "ID", "scale": {"domain": [3,4,8,9,12,13,17,19,20,21,24,25]}}, "shape": {"field": "id", "type": "nominal", "title": "ID", "scale": {"domain": [3,4,8,9,12,13,17,19,20,21,24,25]}}}},
   {"data": {"values": [{"c": "S1-RBD", "r": 1}]}, "mark": {"type": "rule", "strokeDash": [8, 5], "strokeWidth": 2, "color": "#1a1a1a"}, "encoding": {"y": {"field": "r", "type": "quantitative"}}}
  ]}
]},
{"spacing": 0, "hconcat": [
 {"data": {"name": "IgG1"}, "transform": [{"filter": "datum.c == 'NC'"}], "width": 138, "height": 54,
  "layer": [
   {"mark": {"type": "line", "strokeWidth": 1.2, "interpolate": "monotone"}, "encoding": {"x": {"field": "d", "type": "quantitative", "scale": {"domain": [27, 111], "nice": false}, "axis": null}, "y": {"field": "v", "type": "quantitative", "scale": {"domain": [-3, 63], "nice": false, "zero": false}, "axis": {"title": "IgG1 ratio", "values": [0, 10, 20, 30, 40, 50, 60], "labelFontSize": 8}}, "color": {"field": "id", "type": "nominal", "title": "ID", "scale": {"domain": [3,4,8,9,12,13,17,19,20,21,24,25]}}}},
   {"mark": {"type": "point", "filled": true, "size": 9, "opacity": 1}, "encoding": {"x": {"field": "d", "type": "quantitative"}, "y": {"field": "v", "type": "quantitative"}, "color": {"field": "id", "type": "nominal", "title": "ID", "scale": {"domain": [3,4,8,9,12,13,17,19,20,21,24,25]}}, "shape": {"field": "id", "type": "nominal", "title": "ID", "scale": {"domain": [3,4,8,9,12,13,17,19,20,21,24,25]}}}},
   {"data": {"values": [{"c": "NC", "r": 1}]}, "mark": {"type": "rule", "strokeDash": [8, 5], "strokeWidth": 2, "color": "#1a1a1a"}, "encoding": {"y": {"field": "r", "type": "quantitative"}}}
  ]},
 {"data": {"name": "IgG1"}, "transform": [{"filter": "datum.c == 'S1'"}], "width": 138, "height": 54,
  "layer": [
   {"mark": {"type": "line", "strokeWidth": 1.2, "interpolate": "monotone"}, "encoding": {"x": {"field": "d", "type": "quantitative", "scale": {"domain": [27, 111], "nice": false}, "axis": null}, "y": {"field": "v", "type": "quantitative", "scale": {"domain": [-3, 63], "nice": false, "zero": false}, "axis": null}, "color": {"field": "id", "type": "nominal", "title": "ID", "scale": {"domain": [3,4,8,9,12,13,17,19,20,21,24,25]}}}},
   {"mark": {"type": "point", "filled": true, "size": 9, "opacity": 1}, "encoding": {"x": {"field": "d", "type": "quantitative"}, "y": {"field": "v", "type": "quantitative"}, "color": {"field": "id", "type": "nominal", "title": "ID", "scale": {"domain": [3,4,8,9,12,13,17,19,20,21,24,25]}}, "shape": {"field": "id", "type": "nominal", "title": "ID", "scale": {"domain": [3,4,8,9,12,13,17,19,20,21,24,25]}}}},
   {"data": {"values": [{"c": "S1", "r": 1}]}, "mark": {"type": "rule", "strokeDash": [8, 5], "strokeWidth": 2, "color": "#1a1a1a"}, "encoding": {"y": {"field": "r", "type": "quantitative"}}}
  ]},
 {"data": {"name": "IgG1"}, "transform": [{"filter": "datum.c == 'S1-RBD'"}], "width": 138, "height": 54,
  "layer": [
   {"mark": {"type": "line", "strokeWidth": 1.2, "interpolate": "monotone"}, "encoding": {"x": {"field": "d", "type": "quantitative", "scale": {"domain": [27, 111], "nice": false}, "axis": null}, "y": {"field": "v", "type": "quantitative", "scale": {"domain": [-3, 63], "nice": false, "zero": false}, "axis": null}, "color": {"field": "id", "type": "nominal", "title": "ID", "scale": {"domain": [3,4,8,9,12,13,17,19,20,21,24,25]}}}},
   {"mark": {"type": "point", "filled": true, "size": 9, "opacity": 1}, "encoding": {"x": {"field": "d", "type": "quantitative"}, "y": {"field": "v", "type": "quantitative"}, "color": {"field": "id", "type": "nominal", "title": "ID", "scale": {"domain": [3,4,8,9,12,13,17,19,20,21,24,25]}}, "shape": {"field": "id", "type": "nominal", "title": "ID", "scale": {"domain": [3,4,8,9,12,13,17,19,20,21,24,25]}}}},
   {"data": {"values": [{"c": "S1-RBD", "r": 1}]}, "mark": {"type": "rule", "strokeDash": [8, 5], "strokeWidth": 2, "color": "#1a1a1a"}, "encoding": {"y": {"field": "r", "type": "quantitative"}}}
  ]}
]},
{"spacing": 0, "hconcat": [
 {"data": {"name": "IgG2"}, "transform": [{"filter": "datum.c == 'NC'"}], "width": 138, "height": 53,
  "layer": [
   {"mark": {"type": "line", "strokeWidth": 1.2, "interpolate": "monotone"}, "encoding": {"x": {"field": "d", "type": "quantitative", "scale": {"domain": [27, 111], "nice": false}, "axis": null}, "y": {"field": "v", "type": "quantitative", "scale": {"domain": [-0.4, 5.8], "nice": false, "zero": false}, "axis": {"title": "IgG2 ratio", "values": [0, 1, 2, 3, 4, 5]}}, "color": {"field": "id", "type": "nominal", "title": "ID", "scale": {"domain": [3,4,8,9,12,13,17,19,20,21,24,25]}}}},
   {"mark": {"type": "point", "filled": true, "size": 9, "opacity": 1}, "encoding": {"x": {"field": "d", "type": "quantitative"}, "y": {"field": "v", "type": "quantitative"}, "color": {"field": "id", "type": "nominal", "title": "ID", "scale": {"domain": [3,4,8,9,12,13,17,19,20,21,24,25]}}, "shape": {"field": "id", "type": "nominal", "title": "ID", "scale": {"domain": [3,4,8,9,12,13,17,19,20,21,24,25]}}}},
   {"data": {"values": [{"c": "NC", "r": 1}]}, "mark": {"type": "rule", "strokeDash": [8, 5], "strokeWidth": 2, "color": "#1a1a1a"}, "encoding": {"y": {"field": "r", "type": "quantitative"}}}
  ]},
 {"data": {"name": "IgG2"}, "transform": [{"filter": "datum.c == 'S1'"}], "width": 138, "height": 53,
  "layer": [
   {"mark": {"type": "line", "strokeWidth": 1.2, "interpolate": "monotone"}, "encoding": {"x": {"field": "d", "type": "quantitative", "scale": {"domain": [27, 111], "nice": false}, "axis": null}, "y": {"field": "v", "type": "quantitative", "scale": {"domain": [-0.4, 5.8], "nice": false, "zero": false}, "axis": null}, "color": {"field": "id", "type": "nominal", "title": "ID", "scale": {"domain": [3,4,8,9,12,13,17,19,20,21,24,25]}}}},
   {"mark": {"type": "point", "filled": true, "size": 9, "opacity": 1}, "encoding": {"x": {"field": "d", "type": "quantitative"}, "y": {"field": "v", "type": "quantitative"}, "color": {"field": "id", "type": "nominal", "title": "ID", "scale": {"domain": [3,4,8,9,12,13,17,19,20,21,24,25]}}, "shape": {"field": "id", "type": "nominal", "title": "ID", "scale": {"domain": [3,4,8,9,12,13,17,19,20,21,24,25]}}}},
   {"data": {"values": [{"c": "S1", "r": 1}]}, "mark": {"type": "rule", "strokeDash": [8, 5], "strokeWidth": 2, "color": "#1a1a1a"}, "encoding": {"y": {"field": "r", "type": "quantitative"}}}
  ]},
 {"data": {"name": "IgG2"}, "transform": [{"filter": "datum.c == 'S1-RBD'"}], "width": 138, "height": 53,
  "layer": [
   {"mark": {"type": "line", "strokeWidth": 1.2, "interpolate": "monotone"}, "encoding": {"x": {"field": "d", "type": "quantitative", "scale": {"domain": [27, 111], "nice": false}, "axis": null}, "y": {"field": "v", "type": "quantitative", "scale": {"domain": [-0.4, 5.8], "nice": false, "zero": false}, "axis": null}, "color": {"field": "id", "type": "nominal", "title": "ID", "scale": {"domain": [3,4,8,9,12,13,17,19,20,21,24,25]}}}},
   {"mark": {"type": "point", "filled": true, "size": 9, "opacity": 1}, "encoding": {"x": {"field": "d", "type": "quantitative"}, "y": {"field": "v", "type": "quantitative"}, "color": {"field": "id", "type": "nominal", "title": "ID", "scale": {"domain": [3,4,8,9,12,13,17,19,20,21,24,25]}}, "shape": {"field": "id", "type": "nominal", "title": "ID", "scale": {"domain": [3,4,8,9,12,13,17,19,20,21,24,25]}}}},
   {"data": {"values": [{"c": "S1-RBD", "r": 1}]}, "mark": {"type": "rule", "strokeDash": [8, 5], "strokeWidth": 2, "color": "#1a1a1a"}, "encoding": {"y": {"field": "r", "type": "quantitative"}}}
  ]}
]},
{"spacing": 0, "hconcat": [
 {"data": {"name": "IgG3"}, "transform": [{"filter": "datum.c == 'NC'"}], "width": 138, "height": 50,
  "layer": [
   {"mark": {"type": "line", "strokeWidth": 1.2, "interpolate": "monotone"}, "encoding": {"x": {"field": "d", "type": "quantitative", "scale": {"domain": [27, 111], "nice": false}, "axis": null}, "y": {"field": "v", "type": "quantitative", "scale": {"domain": [-4, 86], "nice": false, "zero": false}, "axis": {"title": "IgG3 ratio", "values": [0, 20, 40, 60, 80]}}, "color": {"field": "id", "type": "nominal", "title": "ID", "scale": {"domain": [3,4,8,9,12,13,17,19,20,21,24,25]}}}},
   {"mark": {"type": "point", "filled": true, "size": 9, "opacity": 1}, "encoding": {"x": {"field": "d", "type": "quantitative"}, "y": {"field": "v", "type": "quantitative"}, "color": {"field": "id", "type": "nominal", "title": "ID", "scale": {"domain": [3,4,8,9,12,13,17,19,20,21,24,25]}}, "shape": {"field": "id", "type": "nominal", "title": "ID", "scale": {"domain": [3,4,8,9,12,13,17,19,20,21,24,25]}}}},
   {"data": {"values": [{"c": "NC", "r": 1}]}, "mark": {"type": "rule", "strokeDash": [8, 5], "strokeWidth": 2, "color": "#1a1a1a"}, "encoding": {"y": {"field": "r", "type": "quantitative"}}}
  ]},
 {"data": {"name": "IgG3"}, "transform": [{"filter": "datum.c == 'S1'"}], "width": 138, "height": 50,
  "layer": [
   {"mark": {"type": "line", "strokeWidth": 1.2, "interpolate": "monotone"}, "encoding": {"x": {"field": "d", "type": "quantitative", "scale": {"domain": [27, 111], "nice": false}, "axis": null}, "y": {"field": "v", "type": "quantitative", "scale": {"domain": [-4, 86], "nice": false, "zero": false}, "axis": null}, "color": {"field": "id", "type": "nominal", "title": "ID", "scale": {"domain": [3,4,8,9,12,13,17,19,20,21,24,25]}}}},
   {"mark": {"type": "point", "filled": true, "size": 9, "opacity": 1}, "encoding": {"x": {"field": "d", "type": "quantitative"}, "y": {"field": "v", "type": "quantitative"}, "color": {"field": "id", "type": "nominal", "title": "ID", "scale": {"domain": [3,4,8,9,12,13,17,19,20,21,24,25]}}, "shape": {"field": "id", "type": "nominal", "title": "ID", "scale": {"domain": [3,4,8,9,12,13,17,19,20,21,24,25]}}}},
   {"data": {"values": [{"c": "S1", "r": 1}]}, "mark": {"type": "rule", "strokeDash": [8, 5], "strokeWidth": 2, "color": "#1a1a1a"}, "encoding": {"y": {"field": "r", "type": "quantitative"}}}
  ]},
 {"data": {"name": "IgG3"}, "transform": [{"filter": "datum.c == 'S1-RBD'"}], "width": 138, "height": 50,
  "layer": [
   {"mark": {"type": "line", "strokeWidth": 1.2, "interpolate": "monotone"}, "encoding": {"x": {"field": "d", "type": "quantitative", "scale": {"domain": [27, 111], "nice": false}, "axis": null}, "y": {"field": "v", "type": "quantitative", "scale": {"domain": [-4, 86], "nice": false, "zero": false}, "axis": null}, "color": {"field": "id", "type": "nominal", "title": "ID", "scale": {"domain": [3,4,8,9,12,13,17,19,20,21,24,25]}}}},
   {"mark": {"type": "point", "filled": true, "size": 9, "opacity": 1}, "encoding": {"x": {"field": "d", "type": "quantitative"}, "y": {"field": "v", "type": "quantitative"}, "color": {"field": "id", "type": "nominal", "title": "ID", "scale": {"domain": [3,4,8,9,12,13,17,19,20,21,24,25]}}, "shape": {"field": "id", "type": "nominal", "title": "ID", "scale": {"domain": [3,4,8,9,12,13,17,19,20,21,24,25]}}}},
   {"data": {"values": [{"c": "S1-RBD", "r": 1}]}, "mark": {"type": "rule", "strokeDash": [8, 5], "strokeWidth": 2, "color": "#1a1a1a"}, "encoding": {"y": {"field": "r", "type": "quantitative"}}}
  ]}
]},
{"spacing": 0, "hconcat": [
 {"data": {"name": "IgG4"}, "transform": [{"filter": "datum.c == 'NC'"}], "width": 138, "height": 52,
  "layer": [
   {"mark": {"type": "line", "strokeWidth": 1.2, "interpolate": "monotone"}, "encoding": {"x": {"field": "d", "type": "quantitative", "scale": {"domain": [27, 111], "nice": false}, "axis": {"title": null, "values": [30, 40, 50, 60, 70, 80, 90, 100]}}, "y": {"field": "v", "type": "quantitative", "scale": {"domain": [-0.3, 5.0], "nice": false, "zero": false}, "axis": {"title": "IgG4 ratio", "values": [0, 1, 2, 3, 4]}}, "color": {"field": "id", "type": "nominal", "title": "ID", "scale": {"domain": [3,4,8,9,12,13,17,19,20,21,24,25]}}}},
   {"mark": {"type": "point", "filled": true, "size": 9, "opacity": 1}, "encoding": {"x": {"field": "d", "type": "quantitative"}, "y": {"field": "v", "type": "quantitative"}, "color": {"field": "id", "type": "nominal", "title": "ID", "scale": {"domain": [3,4,8,9,12,13,17,19,20,21,24,25]}}, "shape": {"field": "id", "type": "nominal", "title": "ID", "scale": {"domain": [3,4,8,9,12,13,17,19,20,21,24,25]}}}},
   {"data": {"values": [{"c": "NC", "r": 1}]}, "mark": {"type": "rule", "strokeDash": [8, 5], "strokeWidth": 2, "color": "#1a1a1a"}, "encoding": {"y": {"field": "r", "type": "quantitative"}}}
  ]},
 {"data": {"name": "IgG4"}, "transform": [{"filter": "datum.c == 'S1'"}], "width": 138, "height": 52,
  "layer": [
   {"mark": {"type": "line", "strokeWidth": 1.2, "interpolate": "monotone"}, "encoding": {"x": {"field": "d", "type": "quantitative", "scale": {"domain": [27, 111], "nice": false}, "axis": {"title": "Days post ve virus test", "values": [30, 40, 50, 60, 70, 80, 90, 100]}}, "y": {"field": "v", "type": "quantitative", "scale": {"domain": [-0.3, 5.0], "nice": false, "zero": false}, "axis": null}, "color": {"field": "id", "type": "nominal", "title": "ID", "scale": {"domain": [3,4,8,9,12,13,17,19,20,21,24,25]}}}},
   {"mark": {"type": "point", "filled": true, "size": 9, "opacity": 1}, "encoding": {"x": {"field": "d", "type": "quantitative"}, "y": {"field": "v", "type": "quantitative"}, "color": {"field": "id", "type": "nominal", "title": "ID", "scale": {"domain": [3,4,8,9,12,13,17,19,20,21,24,25]}}, "shape": {"field": "id", "type": "nominal", "title": "ID", "scale": {"domain": [3,4,8,9,12,13,17,19,20,21,24,25]}}}},
   {"data": {"values": [{"c": "S1", "r": 1}]}, "mark": {"type": "rule", "strokeDash": [8, 5], "strokeWidth": 2, "color": "#1a1a1a"}, "encoding": {"y": {"field": "r", "type": "quantitative"}}}
  ]},
 {"data": {"name": "IgG4"}, "transform": [{"filter": "datum.c == 'S1-RBD'"}], "width": 138, "height": 52,
  "layer": [
   {"mark": {"type": "line", "strokeWidth": 1.2, "interpolate": "monotone"}, "encoding": {"x": {"field": "d", "type": "quantitative", "scale": {"domain": [27, 111], "nice": false}, "axis": {"title": null, "values": [30, 40, 50, 60, 70, 80, 90, 100]}}, "y": {"field": "v", "type": "quantitative", "scale": {"domain": [-0.3, 5.0], "nice": false, "zero": false}, "axis": null}, "color": {"field": "id", "type": "nominal", "title": "ID", "scale": {"domain": [3,4,8,9,12,13,17,19,20,21,24,25]}}}},
   {"mark": {"type": "point", "filled": true, "size": 9, "opacity": 1}, "encoding": {"x": {"field": "d", "type": "quantitative"}, "y": {"field": "v", "type": "quantitative"}, "color": {"field": "id", "type": "nominal", "title": "ID", "scale": {"domain": [3,4,8,9,12,13,17,19,20,21,24,25]}}, "shape": {"field": "id", "type": "nominal", "title": "ID", "scale": {"domain": [3,4,8,9,12,13,17,19,20,21,24,25]}}}},
   {"data": {"values": [{"c": "S1-RBD", "r": 1}]}, "mark": {"type": "rule", "strokeDash": [8, 5], "strokeWidth": 2, "color": "#1a1a1a"}, "encoding": {"y": {"field": "r", "type": "quantitative"}}}
  ]}
]}
],
"spacing": 0,
"resolve": {"scale": {"y": "independent"}},
"config": {
 "font": "Liberation Sans",
 "view": {"stroke": "#e4e4e4"},
 "concat": {"spacing": 0},
 "title": {"fontSize": 12, "fontWeight": "normal", "color": "#222", "offset": 4, "anchor": "middle"},
 "range": {
  "category": ["#1f9e2a", "#a21fe0", "#e8d52a", "#5fd8e0", "#0e9a9a", "#7d6a08", "#ff4d3a", "#19e6b2", "#8e86d6", "#c04fc6", "#2e8b6c", "#1f5ad9"],
  "symbol": ["M-0.35,-1H0.35V1H-0.35Z", "M-1,-0.35H1V0.35H-1Z", "M-1,-1L-0.6,-1L0,-0.2L0.6,-1L1,-1L0.2,0.1L0.2,1L-0.2,1L-0.2,0.1Z", "M-0.9,-1H0.9V-0.7L-0.4,0.7H0.9V1H-0.9V0.7L0.4,-0.7H-0.9Z", "circle", "circle", "circle", "circle", "triangle-down", "M1,-1L-1,0L1,1ZM0.55,0.45L-0.3,0L0.55,-0.45Z", "M0,-1L0.22,-0.3L0.95,-0.31L0.36,0.12L0.59,0.81L0,0.38L-0.59,0.81L-0.36,0.12L-0.95,-0.31L-0.22,-0.3Z", "circle"]
 },
 "axis": {"labelFontSize": 9, "labelColor": "#555", "titleFontSize": 11, "titleFontWeight": "normal", "titleColor": "#333", "domainColor": "#999", "tickColor": "#999", "tickSize": 3, "grid": false, "labelPadding": 1, "titlePadding": 5, "labelOverlap": false, "tickCount": 20, "format": "d"},
 "axisX": {"titlePadding": 3},
 "legend": {"titleFontSize": 12, "titleFontWeight": "normal", "titleColor": "#222", "labelFontSize": 12, "labelColor": "#333", "symbolSize": 40, "rowPadding": 1.5, "symbolStrokeWidth": 0, "orient": "none", "legendX": 446, "legendY": -14}
}
}
